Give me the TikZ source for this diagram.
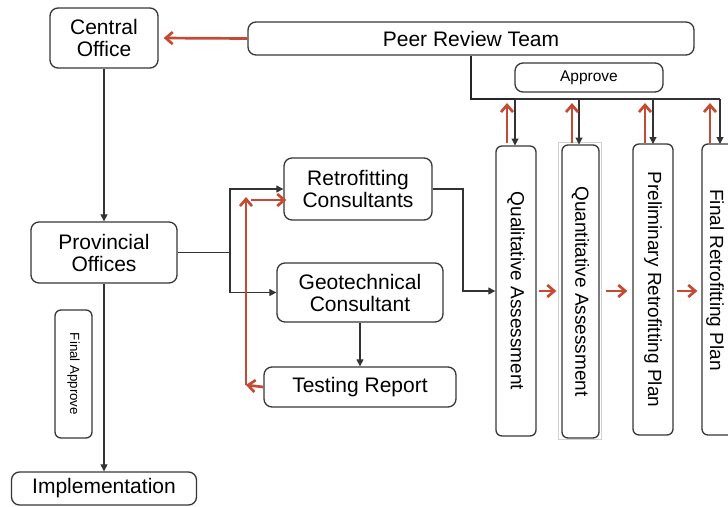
\documentclass[tikz,border=0pt]{standalone}
\usepackage{fontspec}
\setmainfont{Liberation Sans}
\usepackage{graphicx}
\usetikzlibrary{arrows.meta}
\definecolor{redarr}{RGB}{196,74,52}
\definecolor{boxline}{RGB}{55,55,55}
\begin{document}
\begin{tikzpicture}[x=1pt,y=-1pt,
  box/.style={draw=boxline, line width=1.3pt, rounded corners=8pt, fill=white, inner sep=0pt, align=center, font=\fontsize{21}{22}\selectfont},
  vbox/.style={draw=boxline, line width=1.3pt, rounded corners=6pt, fill=white, inner sep=0pt, minimum width=40pt, minimum height=290pt, font=\fontsize{19}{20}\selectfont},
  ln/.style={draw=black!80, line width=1.1pt},
  blk/.style={ln, -{Triangle[length=7pt,width=7pt]}},
  redA/.style={draw=redarr, line width=2.7pt, -{Straight Barb[length=7pt,width=12pt]}}]
\useasboundingbox (0,0) rectangle (728,506);
\begin{scope}
\clip (0,0) rectangle (728,506);
% nodes
\node[box, minimum width=108pt, minimum height=60pt] (central) at (104,38) {Central\\Office};
\node[box, minimum width=446pt, minimum height=33pt] (peer) at (471,38.5) {Peer Review Team};
\node[box, minimum width=148pt, minimum height=29pt, font=\fontsize{15.5}{17}\selectfont] (approve) at (589,77.5) {Approve};
\node[box, minimum width=146pt, minimum height=61pt] (prov) at (104,252.5) {Provincial\\Offices};
\node[box, rounded corners=6pt, minimum width=37pt, minimum height=128pt, font=\fontsize{13.3}{14}\selectfont] (finalapp) at (73.5,374) {\rotatebox{-90}{Final Approve}};
\node[box, minimum width=185pt, minimum height=33pt] (impl) at (104,488.5) {Implementation};
\node[box, minimum width=148pt, minimum height=62pt] (retro) at (358,189) {Retrofitting\\Consultants};
\node[box, minimum width=166pt, minimum height=59pt] (geo) at (360,292.5) {Geotechnical\\Consultant};
\node[box, minimum width=192pt, minimum height=40pt] (test) at (360,387) {Testing Report};
\draw[draw=gray!35, line width=0.6pt] (558,142) rectangle (601,439);
\node[vbox] (qual) at (516,291) {\rotatebox{-90}{Qualitative Assessment}};
\node[vbox, minimum width=37pt, minimum height=293pt] (quant) at (580.5,291.5) {\rotatebox{-90}{Quantitative Assessment}};
\node[vbox, minimum height=291pt] (prelim) at (653,289.5) {\rotatebox{-90}{Preliminary Retrofitting Plan}};
\node[vbox, minimum height=291pt] (final) at (722,289.5) {};
\node[inner sep=0pt, font=\fontsize{19}{20}\selectfont] (finaltxt) at (715,280) {\rotatebox{-90}{Final Retrofitting Plan}};
% connectors left
\draw[redA, shorten >=5pt] (peer.west) -- (central.east);
\draw[blk] (central) -- (prov);
\draw[blk] (prov) -- (impl);
\coordinate (split) at (230,252.5);
\draw[ln] (prov.east) -- (split);
\draw[blk] (split) |- (retro.west);
\draw[blk] (split) |- (geo.west);
\draw[blk] (geo) -- (test);
\coordinate (rb) at (246,385);
\coordinate (rt) at (246,197);
\coordinate (rh) at (251,200);
\draw[redA] (test.west) -- (rb);
\draw[redA] (rb) -- (rt);
\draw[redA] (rh) -- ([xshift=3pt]retro.west |- rh);
\coordinate (rq) at (463,189);
\draw[blk] (retro.east) -- (rq) |- (qual.west);
% red flow arrows
\draw[redA, shorten <=2pt, shorten >=5pt] (qual.east) -- (quant.west |- qual.east);
\draw[redA, shorten <=6pt, shorten >=5pt] (quant.east |- qual.east) -- (prelim.west |- qual.east);
\draw[redA, shorten <=3pt, shorten >=4pt] (prelim.east |- qual.east) -- (final.west |- qual.east);
% peer review distribution
\coordinate (pj) at (471,99);
\coordinate (pe) at (720,99);
\draw[draw=black!85, line width=1.8pt] (peer.south -| pj) -- (pj) -- (515,99);
\draw[ln] (515,99) -- (pe);
\draw[blk] (515,99) -- (515,145.5);
\draw[blk] (579,99) -- (579,144.5);
\draw[blk] (653,99) -- (653,144);
\draw[blk] (pe) -- (720,144);
\coordinate (u1a) at (507,143); \coordinate (u1b) at (507,103);
\coordinate (u2a) at (572,143); \coordinate (u2b) at (572,103);
\coordinate (u3a) at (645,143); \coordinate (u3b) at (645,103);
\coordinate (u4a) at (710,143); \coordinate (u4b) at (710,103);
\draw[redA] (u1a) -- (u1b);
\draw[redA] (u2a) -- (u2b);
\draw[redA] (u3a) -- (u3b);
\draw[redA] (u4a) -- (u4b);
\end{scope}
\end{tikzpicture}
\end{document}
